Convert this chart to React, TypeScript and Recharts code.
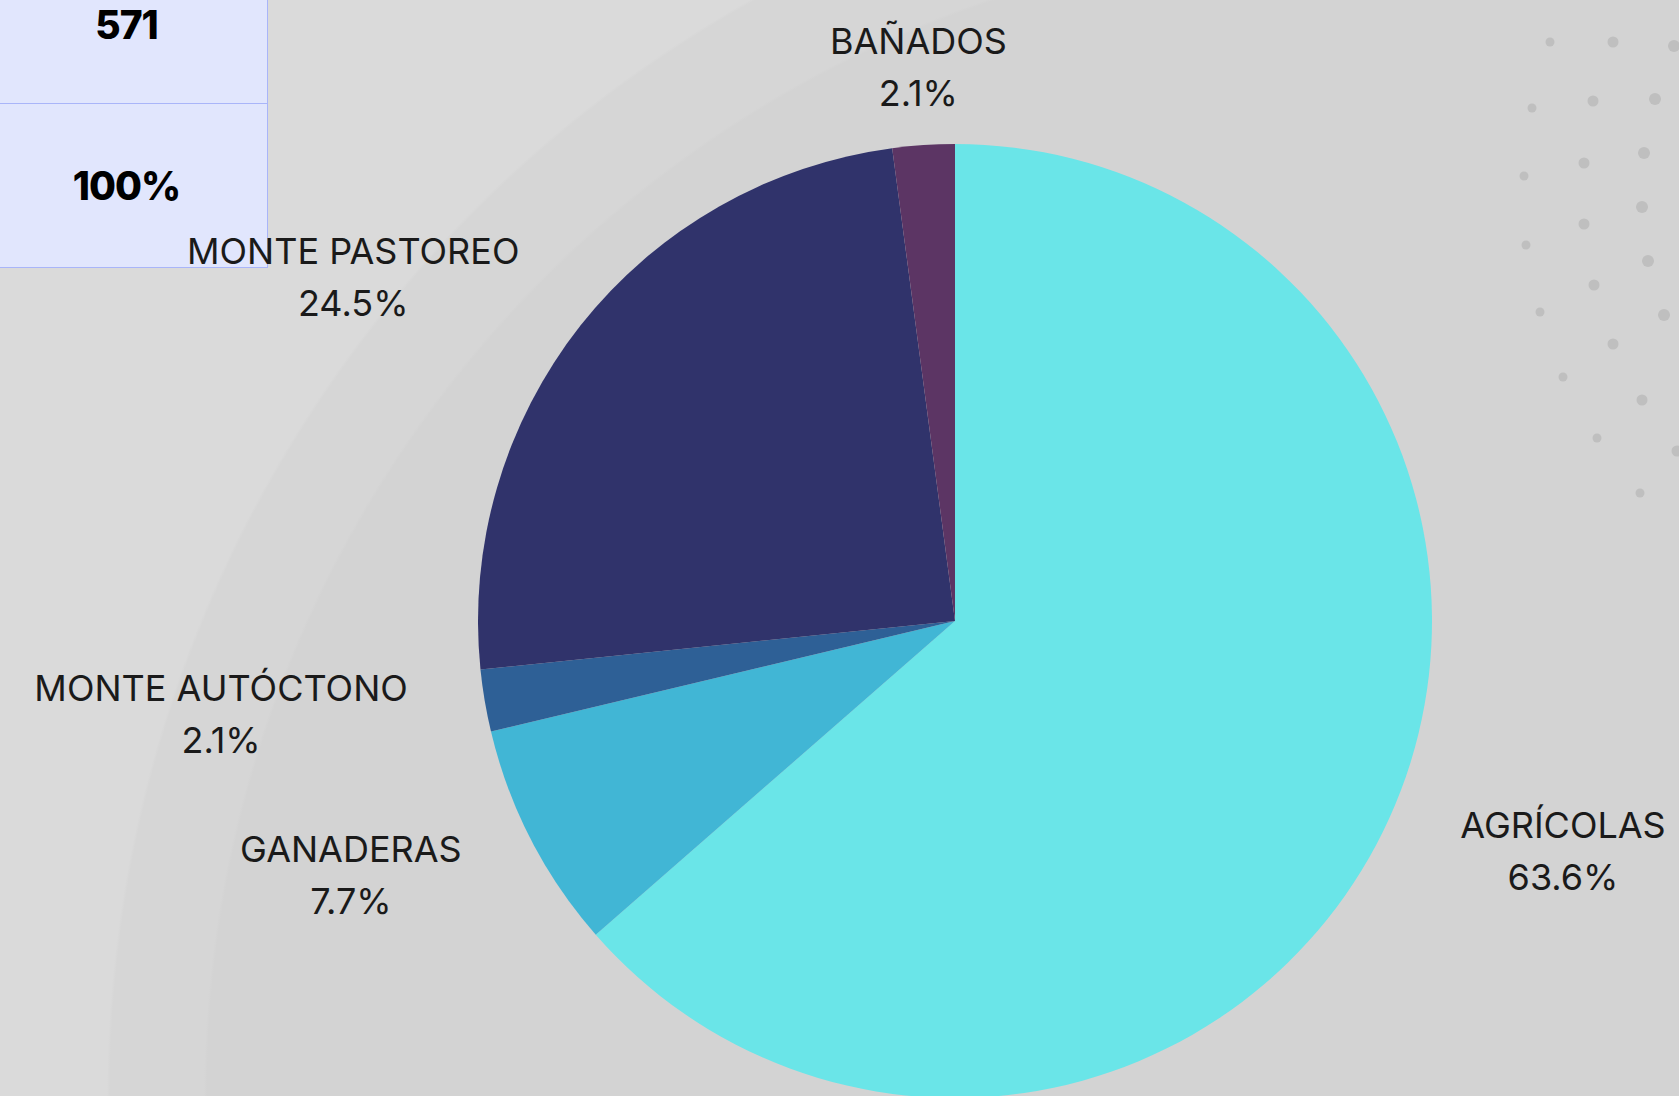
import React from 'react';
import { PieChart, Pie, Cell } from 'recharts';

// ---- data ----
const categories = ['AGRÍCOLAS', 'GANADERAS', 'MONTE AUTÓCTONO', 'MONTE PASTOREO', 'BAÑADOS'];
const counts = [363, 44, 12, 140, 12];
const colors = ['#6ae5e8', '#41b6d5', '#2e6096', '#30336b', '#5c3564'];

const total = counts.reduce((a, b) => a + b, 0);
const summaryRows = [String(total), '100%'];
const data = categories.map((name, i) => ({ name, value: counts[i] }));

// decorative background dots (not data)
const decoDots: [number, number, number][] = [
  [1550, 42, 4.5], [1613, 42, 5.5], [1674, 46, 6],
  [1532, 108, 4.5], [1593, 101, 5.5], [1655, 99, 6],
  [1644, 153, 6], [1584, 163, 5.5], [1524, 176, 4.5],
  [1642, 207, 6], [1584, 224, 5.5], [1526, 245, 4.5],
  [1648, 261, 6], [1594, 285, 5.5], [1540, 312, 4.5], [1664, 315, 6],
  [1613, 344, 5.5], [1563, 377, 4.5], [1642, 400, 5.5], [1597, 438, 4.5],
  [1677, 451, 5.5], [1640, 493, 4.5],
];

const FONT = 'Inter, "Open Sans", sans-serif';
const LABEL_SIZE = 36;
let measureCtx: CanvasRenderingContext2D | null = null;
function measure(t: string): number {
  if (!measureCtx) measureCtx = document.createElement('canvas').getContext('2d');
  if (!measureCtx) return t.length * LABEL_SIZE * 0.6;
  measureCtx.font = `400 ${LABEL_SIZE}px Inter`;
  return measureCtx.measureText(t).width;
}

const RAD = Math.PI / 180;
function renderLabel(props: any) {
  const { cx, cy, midAngle, outerRadius, name, percent } = props;
  const r = outerRadius + 78;
  const c = Math.cos(-midAngle * RAD);
  const s = Math.sin(-midAngle * RAD);
  const ax = cx + r * c;
  const ay = cy + r * s;
  const pct = (percent * 100).toFixed(1) + '%';
  const w = Math.max(measure(name), measure(pct));
  let x = ax;
  if (c > 0.15) x = ax + w / 2;
  else if (c < -0.15) x = ax - w / 2;
  const common = {
    textAnchor: 'middle' as const,
    dominantBaseline: 'central' as const,
    fontFamily: FONT,
    fontSize: LABEL_SIZE,
    fill: '#1a1a1a',
  };
  return (
    <g>
      <text x={x} y={ay - 26} {...common}>{name}</text>
      <text x={x} y={ay + 26} {...common}>{pct}</text>
    </g>
  );
}

export default function App() {
  return (
    <div
      style={{
        position: 'absolute',
        left: 0,
        top: 0,
        width: 1679,
        height: 1096,
        overflow: 'hidden',
        background:
          'radial-gradient(circle 1256px at 1363px 1096px, #d3d3d3 0px, #d3d3d3 1156px, #d6d6d6 1159px, #d6d6d6 1253px, #dadada 1256px)',
      }}
    >
      <svg width={1679} height={1096} style={{ position: 'absolute', left: 0, top: 0 }}>
        {decoDots.map(([x, y, r], i) => (
          <circle key={i} cx={x} cy={y} r={r} fill="#bfbfbf" />
        ))}
      </svg>
      <div
        style={{
          position: 'absolute',
          left: -14,
          top: -60,
          width: 281,
          background: '#e1e6fd',
          borderRight: '1px solid #a9b5f9',
          borderBottom: '1px solid #a9b5f9',
        }}
      >
        {summaryRows.map((t, i) => (
          <div
            key={i}
            style={{
              height: i === 0 ? 157 : 163,
              paddingTop: i === 0 ? 6 : 0,
              borderTop: i > 0 ? '1px solid #a9b5f9' : 'none',
              display: 'flex',
              alignItems: 'center',
              justifyContent: 'center',
              fontFamily: FONT,
              fontWeight: 800,
              fontSize: 39,
              lineHeight: '30px',
              color: '#000',
              letterSpacing: -1,
            }}
          >
            {t}
          </div>
        ))}
      </div>
      <div style={{ position: 'absolute', left: 0, top: 0 }}>
        <PieChart width={1679} height={1096} margin={{ top: 0, right: 0, bottom: 0, left: 0 }}>
          <Pie
            data={data}
            dataKey="value"
            nameKey="name"
            cx={955}
            cy={621}
            outerRadius={477}
            startAngle={90}
            endAngle={-270}
            stroke="none"
            label={renderLabel}
            labelLine={false}
            isAnimationActive={false}
          >
            {data.map((d, i) => (
              <Cell key={d.name} fill={colors[i]} stroke="none" />
            ))}
          </Pie>
        </PieChart>
      </div>
    </div>
  );
}
